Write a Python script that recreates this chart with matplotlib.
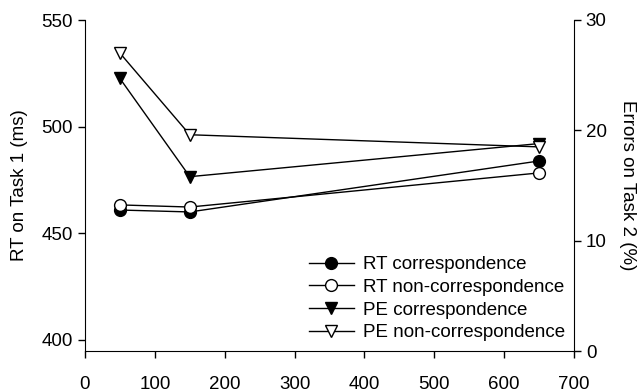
import matplotlib
matplotlib.use("Agg")
import matplotlib.pyplot as plt
from matplotlib.lines import Line2D

plt.rcParams['font.family'] = ['Liberation Sans', 'DejaVu Sans']

soa = [50, 150, 650]
rt_corr = [460.9, 460.0, 483.9]
rt_noncorr = [463.3, 462.3, 478.3]
pe_corr = [24.7, 15.8, 18.8]
pe_noncorr = [27.0, 19.6, 18.5]

labels = ["RT correspondence", "RT non-correspondence",
          "PE correspondence", "PE non-correspondence"]

fs = 13.5
fig = plt.figure(figsize=(6.42, 3.92), dpi=100)
ax = fig.add_axes([85/642, 41/392, (574-85)/642, (351-20)/392])
ax2 = ax.twinx()

lw = 1.0
ms = 8.5
ax.plot(soa, rt_corr, color="black", lw=lw, marker="o", ms=ms,
        mfc="black", mec="black", zorder=3)
ax.plot(soa, rt_noncorr, color="black", lw=lw, marker="o", ms=ms,
        mfc="white", mec="black", zorder=3)
ax2.plot(soa, pe_corr, color="black", lw=lw, marker="v", ms=ms,
         mfc="black", mec="black", zorder=3)
ax2.plot(soa, pe_noncorr, color="black", lw=lw, marker="v", ms=ms,
         mfc="white", mec="black", zorder=3)

ax.set_xlim(0, 700)
ax.set_xticks(range(0, 701, 100))
ax.set_ylim(394.8, 550)
ax.set_yticks([400, 450, 500, 550])
ax2.set_ylim(0, 30)
ax2.set_yticks([0, 10, 20, 30])

for a in (ax, ax2):
    a.spines['top'].set_visible(False)
    a.tick_params(direction="out", length=5, width=1, labelsize=fs)
ax.tick_params(axis="x", pad=13)
ax.spines['right'].set_visible(False)
ax2.spines['left'].set_visible(False)
ax2.spines['bottom'].set_visible(False)

ax.set_ylabel("RT on Task 1 (ms)", fontsize=fs, labelpad=10)
ax2.set_ylabel("Errors on Task 2 (%)", fontsize=fs, rotation=270, labelpad=21)

handles = [
    Line2D([], [], color="black", lw=lw, marker="o", ms=ms, mfc="black", mec="black"),
    Line2D([], [], color="black", lw=lw, marker="o", ms=ms, mfc="white", mec="black"),
    Line2D([], [], color="black", lw=lw, marker="v", ms=ms, mfc="black", mec="black"),
    Line2D([], [], color="black", lw=lw, marker="v", ms=ms, mfc="white", mec="black"),
]
ax2.legend(handles, labels, loc="lower right", frameon=False, fontsize=fs,
           handlelength=2.4, handletextpad=0.5, labelspacing=0.3,
           bbox_to_anchor=(1.017, -0.022))

fig.savefig("out.png", dpi=100)
